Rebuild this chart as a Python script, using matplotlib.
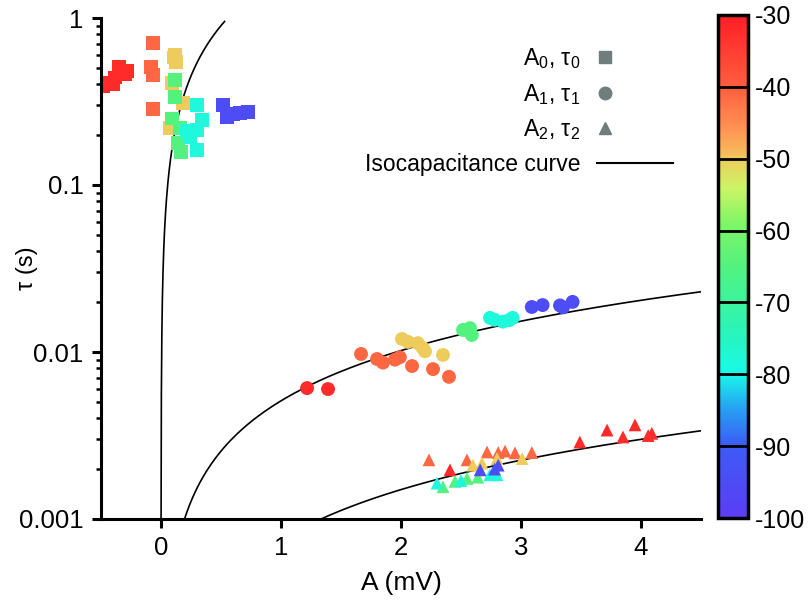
import numpy as np
import matplotlib.pyplot as plt
from matplotlib.colors import LinearSegmentedColormap, Normalize
from matplotlib.cm import ScalarMappable
from matplotlib.lines import Line2D
from matplotlib.legend_handler import HandlerBase
from matplotlib.ticker import LogLocator, NullFormatter, FixedLocator, FixedFormatter

plt.rcParams['font.family'] = ['Liberation Sans', 'DejaVu Sans']
plt.rcParams['mathtext.fontset'] = 'custom'
plt.rcParams['mathtext.rm'] = 'Liberation Sans'
plt.rcParams['mathtext.it'] = 'Liberation Sans:italic'
plt.rcParams['axes.unicode_minus'] = False

# A0, tau0 (squares) with holding potential in mV
sq_A = [-0.483, -0.425, -0.383, -0.35, -0.30, -0.342, -0.40, -0.28, -0.46,
        -0.067, -0.083, -0.067, -0.067,
        0.117, 0.125, 0.092, 0.183, 0.075, 0.11,
        0.117, 0.117, 0.092, 0.158, 0.142, 0.167,
        0.30, 0.342, 0.30, 0.242, 0.30, 0.217,
        0.517, 0.55, 0.658, 0.725, 0.60]
sq_tau = [0.39, 0.41, 0.44, 0.51, 0.46, 0.46, 0.40, 0.48, 0.40,
          0.71, 0.51, 0.456, 0.285,
          0.60, 0.545, 0.41, 0.31, 0.22, 0.58,
          0.425, 0.336, 0.25, 0.22, 0.178, 0.158,
          0.30, 0.245, 0.213, 0.194, 0.162, 0.21,
          0.30, 0.255, 0.27, 0.274, 0.265]
sq_V = [-32] * 9 + [-41] * 4 + [-50] * 6 + [-65] * 6 + [-78] * 6 + [-95] * 5

# A1, tau1 (circles)
ci_A = [1.217, 1.392,
        1.667, 1.80, 1.85, 1.95, 1.99, 2.092, 2.267, 2.40,
        2.008, 2.058, 2.14, 2.20, 2.18, 2.35,
        2.517, 2.575, 2.59,
        2.742, 2.85, 2.93, 2.78, 2.90,
        3.09, 3.18, 3.325, 3.43, 3.35]
ci_tau = [0.00608, 0.0060,
          0.00973, 0.00908, 0.00864, 0.0090, 0.0093, 0.00824, 0.0079, 0.0071,
          0.01197, 0.0115, 0.0113, 0.0101, 0.0106, 0.0096,
          0.01355, 0.0139, 0.01264,
          0.0160, 0.0152, 0.0160, 0.0156, 0.0155,
          0.0186, 0.0191, 0.0190, 0.01995, 0.0185]
ci_V = [-32] * 2 + [-41] * 8 + [-50] * 6 + [-65] * 3 + [-78] * 5 + [-95] * 5

# A2, tau2 (triangles)
tr_A = [2.408, 3.49, 3.717, 3.85, 3.95, 4.06, 4.09,
        2.233, 2.55, 2.717, 2.81, 2.867, 2.95, 3.09,
        2.675, 2.80, 3.01, 2.60,
        2.35, 2.45, 2.55, 2.64,
        2.30, 2.74, 2.80, 2.50,
        2.66, 2.78, 2.81]
tr_tau = [0.00197, 0.00289, 0.00341, 0.0031, 0.00366, 0.00316, 0.00326,
          0.00226, 0.00226, 0.00252, 0.0025, 0.00255, 0.00249, 0.0025,
          0.00216, 0.0023, 0.0023, 0.0021,
          0.00156, 0.00168, 0.00175, 0.00178,
          0.00164, 0.00184, 0.00184, 0.0017,
          0.00197, 0.00199, 0.0021]
tr_V = [-32] * 7 + [-41] * 7 + [-50] * 4 + [-65] * 4 + [-78] * 4 + [-95] * 3

# isocapacitance curves: tau = k * A
iso_k = [1.8, 0.0051, 0.00075]
iso_Amax = [0.53, 4.5, 4.5]

cb_ticks = [-100, -90, -80, -70, -60, -50, -40, -30]

# colormap of the colour bar
cmap_pts = [(-100, (0.36, 0.24, 0.96)), (-90, (0.24, 0.36, 0.96)),
            (-85, (0.15, 0.62, 0.95)), (-80, (0.10, 0.98, 0.92)),
            (-75, (0.15, 0.96, 0.75)), (-65, (0.32, 0.95, 0.50)),
            (-59, (0.50, 0.96, 0.40)), (-54, (0.80, 0.96, 0.40)),
            (-50, (0.93, 0.80, 0.36)), (-49, (0.97, 0.72, 0.36)),
            (-45, (1.00, 0.55, 0.32)), (-40, (1.00, 0.37, 0.25)),
            (-30, (1.00, 0.12, 0.15))]
cmap = LinearSegmentedColormap.from_list(
    'vh', [((v + 100) / 70, c) for v, c in cmap_pts])
norm = Normalize(-100, -30)

fig = plt.figure(figsize=(8.12, 6.06), dpi=100)
ax = fig.add_axes([101 / 812, 87 / 606, 600 / 812, 501 / 606])

for k, amax in zip(iso_k, iso_Amax):
    a = np.linspace(0.0005, amax, 400)
    ax.plot(a, k * a, color='k', lw=1.2, zorder=1)

ax.scatter(sq_A, sq_tau, c=sq_V, cmap=cmap, norm=norm, marker='s', s=100,
           linewidths=0, zorder=2)
ax.scatter(ci_A, ci_tau, c=ci_V, cmap=cmap, norm=norm, marker='o', s=100,
           linewidths=0, zorder=2)
ax.scatter(tr_A, tr_tau, c=tr_V, cmap=cmap, norm=norm, marker='^', s=85,
           linewidths=0, zorder=2)

ax.set_yscale('log')
ax.set_xlim(-0.5, 4.5)
ax.set_ylim(0.001, 1)
ax.set_xticks([0, 1, 2, 3, 4])
ax.yaxis.set_major_locator(FixedLocator([0.001, 0.01, 0.1, 1]))
ax.yaxis.set_major_formatter(FixedFormatter(['0.001', '0.01', '0.1', '1']))
ax.yaxis.set_minor_locator(LogLocator(base=10, subs=np.arange(2, 10)))
ax.yaxis.set_minor_formatter(NullFormatter())
for s in ['top', 'right']:
    ax.spines[s].set_visible(False)
for s in ['left', 'bottom']:
    ax.spines[s].set_linewidth(2.2)
ax.tick_params(which='major', length=6.5, width=2.2, labelsize=18.5, pad=6)
ax.tick_params(axis='x', which='major', pad=6)
ax.tick_params(which='minor', length=3.5, width=1.8)
ax.set_xlabel('A (mV)', fontsize=19, labelpad=8)
ax.set_ylabel('τ (s)', fontsize=17)
ax.yaxis.set_label_coords(-0.105, 0.5)


class LeftMarker(HandlerBase):
    def create_artists(self, legend, orig, xdescent, ydescent, width, height,
                       fontsize, trans):
        m = Line2D([-xdescent + 0.1 * width], [height / 2 - ydescent],
                   marker=orig.get_marker(), ms=orig.get_markersize(),
                   color=orig.get_color(), ls='none', transform=trans)
        return [m]


gray = '#6f7d7d'
h0 = Line2D([], [], marker='s', ms=8, color=gray, ls='none')
h1 = Line2D([], [], marker='o', ms=9, color=gray, ls='none')
h2 = Line2D([], [], marker='^', ms=8, color=gray, ls='none')
h3 = Line2D([], [], color='k', lw=1.5)
ax.legend([h0, h1, h2, h3],
          ['A$_0$, τ$_0$', 'A$_1$, τ$_1$', 'A$_2$, τ$_2$', 'Isocapacitance curve'],
          handler_map={h0: LeftMarker(), h1: LeftMarker(), h2: LeftMarker()},
          loc='upper right', bbox_to_anchor=(673 / 812, 1 - 46 / 606),
          bbox_transform=fig.transFigure, frameon=False, markerfirst=False,
          fontsize=16.5, handlelength=3.3, handletextpad=0.75, labelspacing=0.47,
          borderpad=0, borderaxespad=0)

cax = fig.add_axes([718 / 812, 88 / 606, 30 / 812, 503 / 606])
cb = fig.colorbar(ScalarMappable(norm=norm, cmap=cmap), cax=cax, ticks=cb_ticks)
cb.ax.set_yticklabels([str(t) for t in cb_ticks])
cb.ax.tick_params(length=0, labelsize=18, pad=5)
cb.outline.set_linewidth(2.5)
for v in cb_ticks[1:-1]:
    cax.axhline(v, color='k', lw=2)

fig.savefig('out.png', dpi=100)
